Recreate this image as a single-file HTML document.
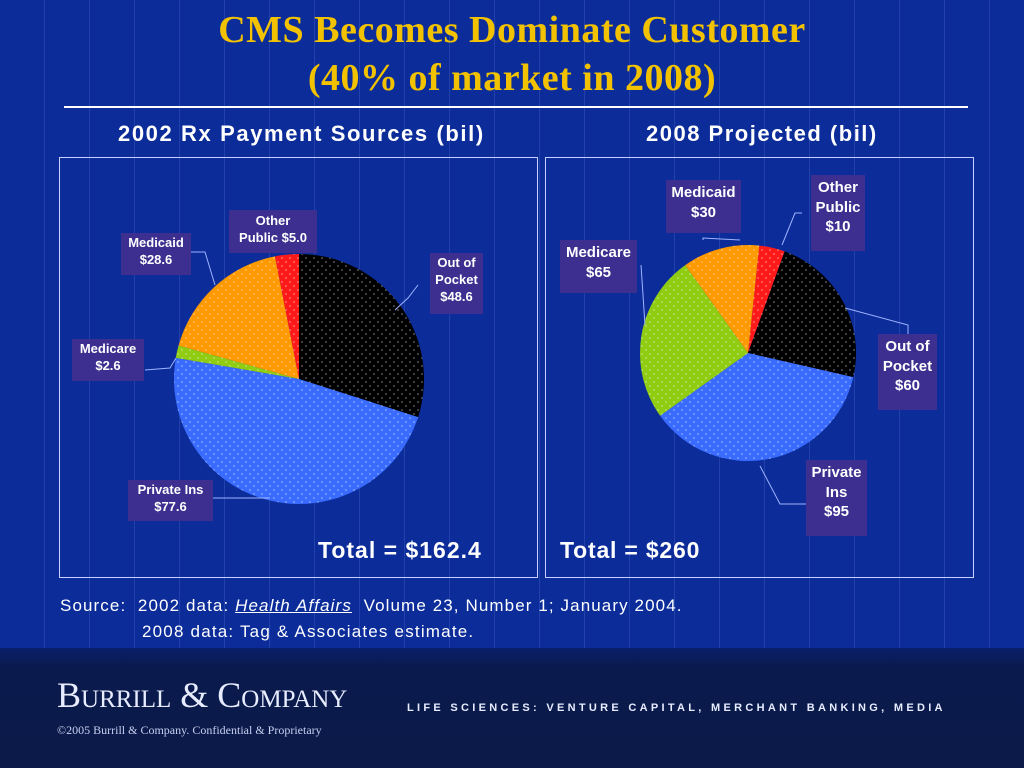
<!DOCTYPE html>
<html><head><meta charset="utf-8"><style>
body{margin:0;width:1024px;height:768px;overflow:hidden;background:#0b2c99;font-family:"Liberation Sans",sans-serif;position:relative}
.bg{position:absolute;left:0;top:0;width:1024px;height:768px;background:repeating-linear-gradient(90deg,rgba(255,255,255,0) 0 44px,rgba(140,160,255,0.18) 44px 45px)}
.foot{position:absolute;left:0;top:648px;width:1024px;height:120px;background:linear-gradient(#0a1f6a,#0a1a4d 20px,#0b1a48)}
.t{position:absolute;color:#fff;white-space:nowrap}
.title{position:absolute;left:0;width:1024px;text-align:center;font-family:"Liberation Serif",serif;font-weight:bold;color:#f2c200;font-size:38px;letter-spacing:0.5px}
.box{position:absolute;border:1px solid #c8d0ff}
.lb{position:absolute;background:#3d2f8f;color:#fff;font-weight:bold;text-align:center;line-height:1.3}
</style></head><body>
<div class="bg"></div>
<div class="title" style="top:8px">CMS Becomes Dominate Customer</div>
<div class="title" style="top:56px">(40% of market in 2008)</div>
<div style="position:absolute;left:64px;top:106px;width:904px;height:2px;background:#fff"></div>
<div class="t" style="left:118px;top:121px;font-size:22px;font-weight:bold;letter-spacing:1.6px">2002 Rx Payment Sources (bil)</div>
<div class="t" style="left:646px;top:121px;font-size:22px;font-weight:bold;letter-spacing:1.5px">2008 Projected (bil)</div>
<div class="box" style="left:59px;top:157px;width:477px;height:419px"></div>
<div class="box" style="left:545px;top:157px;width:427px;height:419px"></div>
<svg id="svg" width="1024" height="768" style="position:absolute;left:0;top:0">
<defs>
<pattern id="dots" width="8" height="8" patternUnits="userSpaceOnUse"><circle cx="2" cy="2" r="0.8" fill="rgba(255,255,255,0.55)"/><circle cx="6" cy="6" r="0.8" fill="rgba(255,255,255,0.55)"/></pattern>
</defs>
<g id="leaders" stroke="#9fb4ff" stroke-width="1" fill="none">
<polyline points="418,285 408,298 395,310"/>
<polyline points="145,370 170,368 176,358"/>
<polyline points="190,252 205,252 215,285"/>
<polyline points="212,498 270,498"/>
<polyline points="703,240 703,238 740,240"/>
<polyline points="802,213 795,213 782,245"/>
<polyline points="641,265 645,325"/>
<polyline points="908,334 908,325 845,308"/>
<polyline points="806,504 780,504 760,466"/>
</g>
</svg>
<div class="lb" style="left:430px;top:253px;width:53px;height:59px;font-size:13px;padding-top:2px">Out of<br>Pocket<br>$48.6</div>
<div class="lb" style="left:229px;top:210px;width:88px;height:40px;font-size:13px;padding-top:3px">Other<br>Public $5.0</div>
<div class="lb" style="left:121px;top:233px;width:70px;height:40px;font-size:13px;padding-top:2px">Medicaid<br>$28.6</div>
<div class="lb" style="left:72px;top:339px;width:72px;height:40px;font-size:13px;padding-top:2px">Medicare<br>$2.6</div>
<div class="lb" style="left:128px;top:480px;width:85px;height:39px;font-size:13px;padding-top:2px">Private Ins<br>$77.6</div>
<div class="lb" style="left:666px;top:180px;width:75px;height:50px;font-size:15px;padding-top:3px">Medicaid<br>$30</div>
<div class="lb" style="left:811px;top:175px;width:54px;height:73px;font-size:15px;padding-top:3px">Other<br>Public<br>$10</div>
<div class="lb" style="left:560px;top:240px;width:77px;height:50px;font-size:15px;padding-top:3px">Medicare<br>$65</div>
<div class="lb" style="left:878px;top:334px;width:59px;height:73px;font-size:15px;padding-top:3px">Out of<br>Pocket<br>$60</div>
<div class="lb" style="left:806px;top:460px;width:61px;height:73px;font-size:15px;padding-top:3px">Private<br>Ins<br>$95</div>
<div class="t" style="left:318px;top:537px;font-size:23px;font-weight:bold;letter-spacing:1px">Total = $162.4</div>
<div class="t" style="left:560px;top:537px;font-size:23px;font-weight:bold;letter-spacing:0.8px">Total = $260</div>
<div class="t" style="left:60px;top:596px;font-size:17px;letter-spacing:1.1px">Source:&nbsp; 2002 data: <i><u>Health Affairs</u></i>&nbsp; Volume 23, Number 1; January 2004.</div>
<div class="t" style="left:142px;top:622px;font-size:17px;letter-spacing:1.2px">2008 data: Tag &amp; Associates estimate.</div>
<div class="foot"></div>
<div class="t" style="left:57px;top:674px;font-family:'Liberation Serif',serif;font-size:36px;font-variant:small-caps;color:#e8ecff">Burrill &amp; Company</div>
<div class="t" style="left:57px;top:723px;font-family:'Liberation Serif',serif;font-size:12px;color:#c8d0f0">©2005 Burrill &amp; Company. Confidential &amp; Proprietary</div>
<div class="t" style="left:407px;top:702px;font-size:11px;font-weight:bold;letter-spacing:3.3px;color:#e8ecff">LIFE SCIENCES: VENTURE CAPITAL, MERCHANT BANKING, MEDIA</div>
<script>
const cats2002=["Out of Pocket","Private Ins","Medicare","Medicaid","Other Public"];
const vals2002=[48.6,77.6,2.6,28.6,5.0];
const cats2008=["Other Public","Out of Pocket","Private Ins","Medicare","Medicaid"];
const vals2008=[10,60,95,65,30];
const colors={"Out of Pocket":"#000000","Private Ins":"#3a6bff","Medicare":"#8fcc12","Medicaid":"#ff9900","Other Public":"#ff1a1a"};
const NS="http://www.w3.org/2000/svg";
const svg=document.getElementById('svg');
function pie(cats,vals,cx,cy,r,start){
  const tot=vals.reduce((a,b)=>a+b,0);
  let a=start*Math.PI/180;
  const g=document.createElementNS(NS,'g');
  svg.insertBefore(g,document.getElementById('leaders'));
  cats.forEach((c,i)=>{
    const a2=a+vals[i]/tot*2*Math.PI;
    const x1=cx+r*Math.sin(a),y1=cy-r*Math.cos(a),x2=cx+r*Math.sin(a2),y2=cy-r*Math.cos(a2);
    const large=(a2-a)>Math.PI?1:0;
    const d=`M${cx},${cy}L${x1},${y1}A${r},${r} 0 ${large} 1 ${x2},${y2}Z`;
    [colors[c],'url(#dots)'].forEach((f,k)=>{
      const p=document.createElementNS(NS,'path');
      p.setAttribute('d',d);p.setAttribute('fill',f);
      
      
      g.appendChild(p);
    });
    a=a2;
  });
}
pie(cats2002,vals2002,299,379,125,0);
pie(cats2008,vals2008,748,353,108,6);
</script>
</body></html>
